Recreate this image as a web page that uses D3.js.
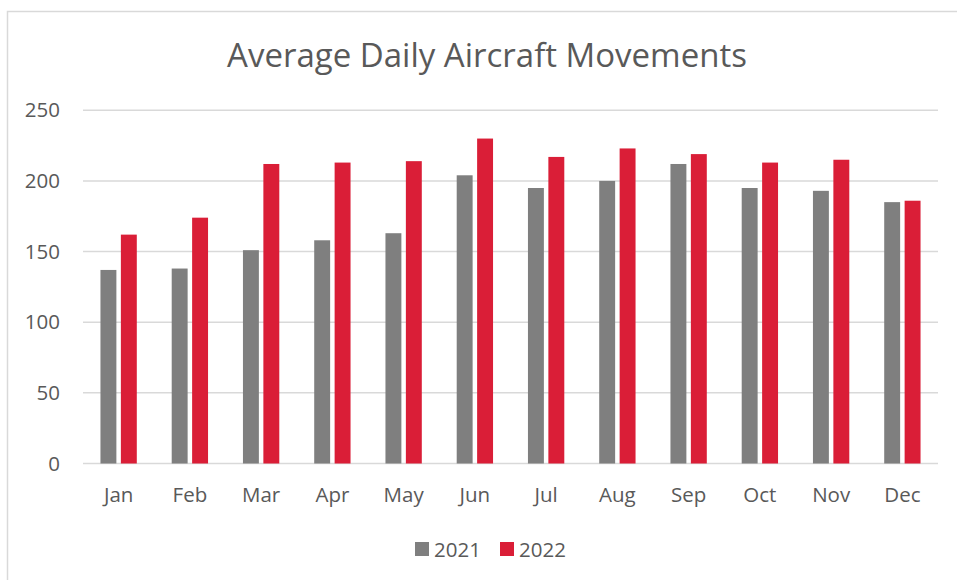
<!DOCTYPE html>
<html lang="en">
<head>
<meta charset="UTF-8">
<title>Average Daily Aircraft Movements</title>
<script src="https://cdn.jsdelivr.net/npm/d3@7/dist/d3.min.js"></script>
<style>
  html, body { margin: 0; padding: 0; background: #fff; }
  text { font-family: "Open Sans", "Noto Sans", sans-serif; fill: #595959; }
</style>
</head>
<body>
<div id="output"></div>
<script>

var months = ["Jan", "Feb", "Mar", "Apr", "May", "Jun", "Jul", "Aug", "Sep", "Oct", "Nov", "Dec"];
var years = ["2021", "2022"];
var values2021 = [137, 138, 151, 158, 163, 204, 195, 200, 212, 195, 193, 185];
var values2022 = [162, 174, 212, 213, 214, 230, 217, 223, 219, 213, 215, 186];
var yTicks = [0, 50, 100, 150, 200, 250];

var colors = { "2021": "#7f7f7f", "2022": "#da1e37" };

var w = 957, h = 580;
var plotL = 83, plotR = 938, plotT = 110.3, plotB = 463.5;

var svg = d3.select("#output")
    .append("svg")
    .attr("width", w)
    .attr("height", h);

// chart border (runs off the right and bottom of the picture)
svg.append("rect")
    .attr("x", 7.5).attr("y", 11.5)
    .attr("width", 960).attr("height", 600)
    .attr("fill", "none")
    .attr("stroke", "#d9d9d9")
    .attr("stroke-width", 1.5);

svg.append("text")
    .attr("x", 487).attr("y", 67)
    .attr("text-anchor", "middle")
    .style("font-size", "33px")
    .text("Average Daily Aircraft Movements");

var y = d3.scaleLinear().domain([0, 250]).range([plotB, plotT]);

var x0 = d3.scaleBand().domain(months).range([plotL, plotR]).paddingInner(0.49).paddingOuter(0.245);
var x1 = d3.scaleBand().domain(years).range([0, x0.bandwidth()]).paddingInner(0.22);

// gridlines
svg.append("g")
    .selectAll("line")
    .data(yTicks)
    .enter().append("line")
    .attr("x1", plotL).attr("x2", plotR)
    .attr("y1", function (d) { return y(d); })
    .attr("y2", function (d) { return y(d); })
    .attr("stroke", "#d9d9d9")
    .attr("stroke-width", 1.5);

// y axis labels
var yAxis = d3.axisLeft(y).tickValues(yTicks).tickSize(0).tickPadding(0);
var gy = svg.append("g").attr("transform", "translate(60,0)").call(yAxis);
gy.select(".domain").remove();
gy.selectAll("text").style("font-size", "20.5px").attr("fill", "#595959");

// bars
var rows = months.map(function (m, i) {
    return { month: m, vals: [{ year: "2021", v: values2021[i] }, { year: "2022", v: values2022[i] }] };
});

var groups = svg.append("g")
    .selectAll("g")
    .data(rows)
    .enter().append("g")
    .attr("transform", function (d) { return "translate(" + x0(d.month) + ",0)"; });

groups.selectAll("rect")
    .data(function (d) { return d.vals; })
    .enter().append("rect")
    .attr("x", function (d) { return x1(d.year); })
    .attr("width", x1.bandwidth())
    .attr("y", function (d) { return y(d.v); })
    .attr("height", function (d) { return y(0) - y(d.v); })
    .attr("fill", function (d) { return colors[d.year]; });

// x axis labels
var xAxis = d3.axisBottom(x0).tickSize(0).tickPadding(0);
var gx = svg.append("g").call(xAxis);
gx.select(".domain").remove();
gx.selectAll("text")
    .attr("y", 502).attr("dy", 0)
    .style("font-size", "20.5px").attr("fill", "#595959");

// legend
var legendX = [415, 500];
var legend = svg.append("g")
    .selectAll("g")
    .data(years)
    .enter().append("g")
    .attr("transform", function (d, i) { return "translate(" + legendX[i] + ",542)"; });

legend.append("rect")
    .attr("width", 14).attr("height", 14)
    .attr("fill", function (d) { return colors[d]; });

legend.append("text")
    .attr("x", 19).attr("y", 14.5)
    .style("font-size", "20.5px")
    .text(function (d) { return d; });

</script>
</body>
</html>
